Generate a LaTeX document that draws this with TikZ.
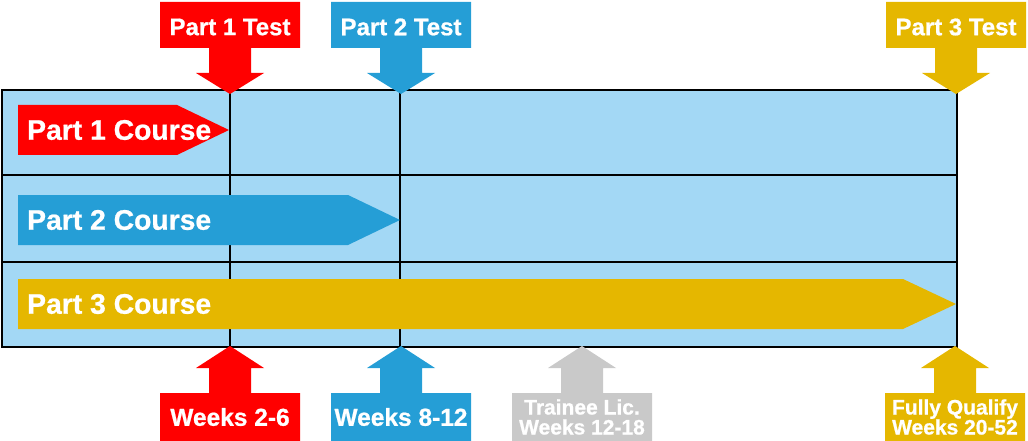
\documentclass[tikz,border=0pt]{standalone}
\usepackage{fontspec}
\setmainfont{Liberation Sans}[BoldFeatures={FakeBold=0.8}]
\definecolor{cred}{HTML}{FF0000}
\definecolor{cblue}{HTML}{259ED6}
\definecolor{cgold}{HTML}{E5B700}
\definecolor{cgrey}{HTML}{C9C9C9}
\definecolor{cgrid}{HTML}{A3D8F5}
\newcommand{\downcall}[4]{%
  \fill[#1] (#2-70,2) -- (#2+70,2) -- (#2+70,48) -- (#2+21,48) -- (#2+21,73) -- (#2+34,73) -- (#2,94) -- (#2-34,73) -- (#2-21,73) -- (#2-21,48) -- (#2-70,48) -- cycle;
  \node[toplbl] (#3) at (#2,27) {#4};}
\newcommand{\upcall}[5]{%
  \fill[#1] (#2-70,441) -- (#2+70,441) -- (#2+70,393) -- (#2+21,393) -- (#2+21,368) -- (#2+34,368) -- (#2,346) -- (#2-34,368) -- (#2-21,368) -- (#2-21,393) -- (#2-70,393) -- cycle;
  \node[#5] (#3) at (#2,417) {#4};}
\newcommand{\course}[6]{%
  \fill[#1] (18,#2-25) -- (#3,#2-25) -- (#4,#2) -- (#3,#2+25) -- (18,#2+25) -- cycle;
  \node[courselbl] (#5) at (27,#2) {#6};}
\begin{document}
\begin{tikzpicture}[x=1pt,y=-1pt,
  gridline/.style={draw=black,line width=2.6pt},
  toplbl/.style={text=white,font=\bfseries\fontsize{24}{25}\selectfont,inner sep=0pt},
  wklbl/.style={text=white,font=\bfseries\fontsize{24.5}{26}\selectfont,inner sep=0pt},
  twolbl/.style={text=white,font=\bfseries\fontsize{21}{20}\selectfont,align=center,inner sep=0pt},
  courselbl/.style={text=white,font=\bfseries\fontsize{28.3}{30}\selectfont,anchor=west,inner sep=0pt}]
\useasboundingbox (0,0) rectangle (1028,441);
% grid
\fill[cgrid] (2,90) rectangle (957,347);
\draw[gridline] (2,90) rectangle (957,347);
\draw[gridline] (2,175) -- (957,175);
\draw[gridline] (2,262) -- (957,262);
\draw[gridline] (230,90) -- (230,347);
\draw[gridline] (400,90) -- (400,347);
% course arrows
\course{cred}{130}{177}{229}{c1}{Part 1 Course}
\course{cblue}{220}{348}{400}{c2}{Part 2 Course}
\course{cgold}{304}{903}{956}{c3}{Part 3 Course}
% top callouts
\downcall{cred}{230}{t1}{Part 1 Test}
\downcall{cblue}{401}{t2}{Part 2 Test}
\downcall{cgold}{956}{t3}{Part 3 Test}
% bottom callouts
\upcall{cred}{230}{w1}{Weeks 2-6}{wklbl}
\upcall{cblue}{401}{w2}{Weeks 8-12}{wklbl}
\upcall{cgrey}{582}{w3}{Trainee Lic.\\Weeks 12-18}{twolbl}
\upcall{cgold}{955}{w4}{Fully Qualify\\Weeks 20-52}{twolbl}
\end{tikzpicture}
\end{document}
